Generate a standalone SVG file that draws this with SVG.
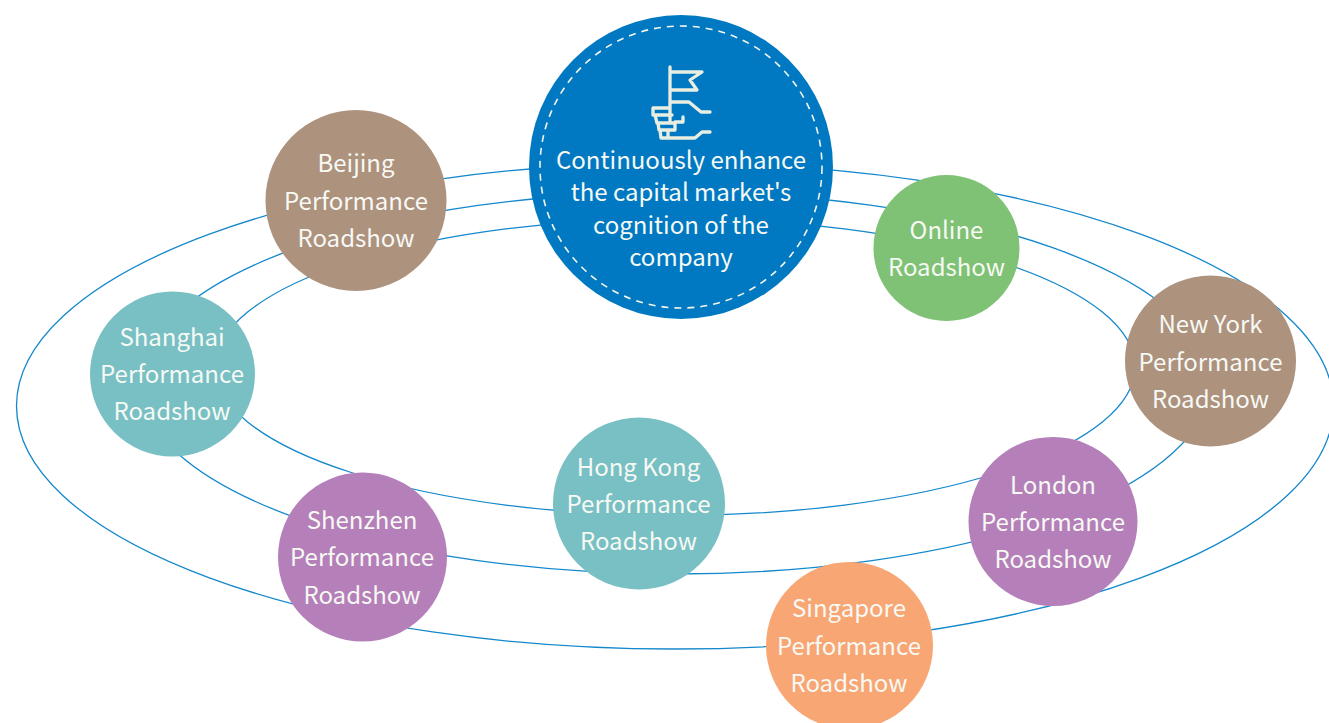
<svg xmlns="http://www.w3.org/2000/svg" width="1329" height="723" viewBox="0 0 1329 723">
<style>
.orbit{fill:none;stroke:#1488cc;stroke-width:1.3}
text{font-family:"Noto Sans CJK SC","Noto Sans",sans-serif;font-size:24px;fill:#f7f9f4;text-anchor:middle}
.icon{fill:none;stroke:#e8efe2;stroke-width:3.300;stroke-linecap:round;stroke-linejoin:round}
</style>
<rect width="1329" height="723" fill="#fff"/>
<g id="connectors">
<ellipse class="orbit" cx="675" cy="406" rx="658.500" ry="243"/>
<ellipse class="orbit" cx="675" cy="383" rx="535" ry="191"/>
<ellipse class="orbit" cx="675" cy="367" rx="460" ry="148.500"/>
</g>
<g id="center">
<circle cx="681" cy="167" r="152" fill="#0079c2"/>
<circle cx="681" cy="167" r="141" fill="none" stroke="#f4f6ee" stroke-width="1.6" stroke-dasharray="7 6"/>
<path class="icon" d="M670 67V122M670 72H702L690 80L697 90H670M670 102H689L701 112H710M653 108H670M653 108V115H672M655 115L657 123H675M658 123L659 130H675M660 130L661 138H695L702 132H710M668 130V138M683 117V122H675V130"/>
<text x="681" y="169">Continuously enhance</text>
<text x="681" y="201">the capital market's</text>
<text x="681" y="234">cognition of the</text>
<text x="681" y="266">company</text>
</g>
<g id="beijing"><circle cx="356" cy="200.500" r="90.500" fill="#ad927e"/>
<text x="356" y="172">Beijing</text><text x="356" y="209.500">Performance</text><text x="356" y="247">Roadshow</text></g>
<g id="online"><circle cx="946.500" cy="248" r="73" fill="#7fc175"/>
<text x="946.500" y="239">Online</text><text x="946.500" y="276">Roadshow</text></g>
<g id="newyork"><circle cx="1210.500" cy="361" r="85.500" fill="#ad927e"/>
<text x="1210.500" y="333">New York</text><text x="1210.500" y="370.500">Performance</text><text x="1210.500" y="408">Roadshow</text></g>
<g id="shanghai"><circle cx="172.500" cy="374" r="82.500" fill="#78c0c4"/>
<text x="172" y="346">Shanghai</text><text x="172" y="383">Performance</text><text x="172" y="420">Roadshow</text></g>
<g id="hongkong"><circle cx="639" cy="503.500" r="86" fill="#78c0c4"/>
<text x="638.500" y="476">Hong Kong</text><text x="638.500" y="513">Performance</text><text x="638.500" y="550">Roadshow</text></g>
<g id="london"><circle cx="1053" cy="521.500" r="84.500" fill="#b57fb9"/>
<text x="1053" y="494">London</text><text x="1053" y="531">Performance</text><text x="1053" y="568">Roadshow</text></g>
<g id="shenzhen"><circle cx="362.500" cy="557" r="84.500" fill="#b57fb9"/>
<text x="362" y="529">Shenzhen</text><text x="362" y="566">Performance</text><text x="362" y="603.500">Roadshow</text></g>
<g id="singapore"><circle cx="849.500" cy="645.500" r="83.500" fill="#f8a674"/>
<text x="849" y="617">Singapore</text><text x="849" y="655">Performance</text><text x="849" y="692">Roadshow</text></g>
</svg>
